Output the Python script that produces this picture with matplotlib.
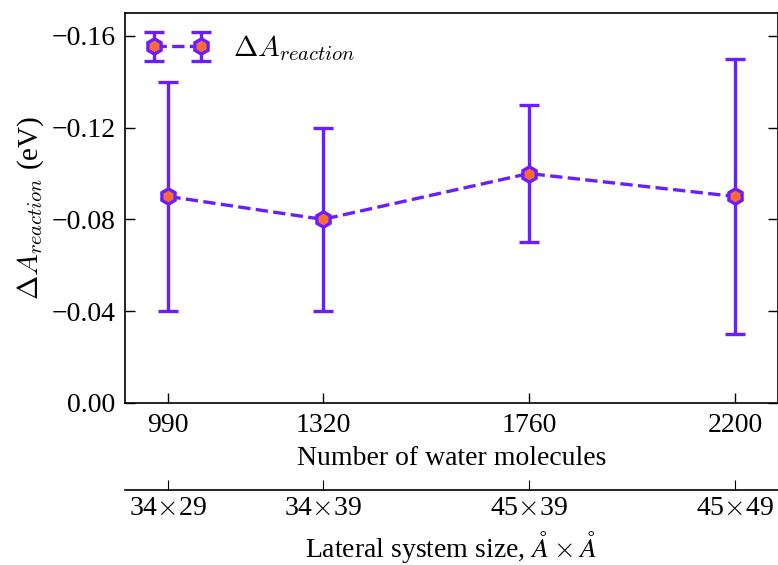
import numpy as np
import matplotlib
matplotlib.use('Agg')
import matplotlib.pyplot as plt

# data
n_water = [990, 1320, 1760, 2200]
size_labels = [r'34$\times$29', r'34$\times$39', r'45$\times$39', r'45$\times$49']
dA = [-0.09, -0.08, -0.10, -0.09]
dA_err = [0.05, 0.04, 0.03, 0.06]
yticks = [0.0, -0.04, -0.08, -0.12, -0.16]

plt.rcParams['font.family'] = ['Liberation Serif', 'DejaVu Serif']
plt.rcParams['mathtext.fontset'] = 'cm'

purple = '#6a1eff'
orange = '#ff6a33'

fig = plt.figure(figsize=(7.78, 5.65), dpi=100)
ax = fig.add_axes([0.161, 0.287, 0.839, 0.69])

ax.errorbar(n_water, dA, yerr=dA_err, color=purple, ls='--', lw=2.4,
            marker='h', ms=11, mfc=orange, mec=purple, mew=2.4,
            elinewidth=2.4, capsize=7, capthick=2.4,
            label=r'$\Delta A_{reaction}$')

ax.set_xlim(898, 2292)
ax.set_ylim(0, -0.17)
ax.set_xticks(n_water)
ax.set_yticks(yticks)
ax.set_yticklabels(['0.00', '\u22120.04', '\u22120.08', '\u22120.12', '\u22120.16'])
ax.tick_params(direction='in', right=True, length=7, width=1,
               labelsize=20, pad=7)
ax.set_xlabel('Number of water molecules', fontsize=20, labelpad=6)
ax.set_ylabel(r'$\Delta A_{reaction}$ (eV)', fontsize=21, labelpad=4)
for s in ax.spines.values():
    s.set_linewidth(1.2)

ax.legend(loc='upper left', numpoints=2, frameon=False, fontsize=21,
          handlelength=2.2, borderaxespad=0.3)

# second x axis below with lateral sizes
ax2 = ax.twiny()
ax2.set_xlim(ax.get_xlim())
ax2.xaxis.set_ticks_position('bottom')
ax2.xaxis.set_label_position('bottom')
ax2.spines['bottom'].set_position(('outward', 63))
for side in ['top', 'left', 'right']:
    ax2.spines[side].set_visible(False)
ax2.spines['bottom'].set_linewidth(1.2)
ax2.set_xticks(n_water)
ax2.set_xticklabels(size_labels)
ax2.tick_params(direction='in', length=7, labelsize=20, pad=4)
ax2.set_xlabel(r'Lateral system size, $\AA\times\AA$',
               fontsize=20, labelpad=6)

plt.savefig('out.png', dpi=100)
plt.close()
